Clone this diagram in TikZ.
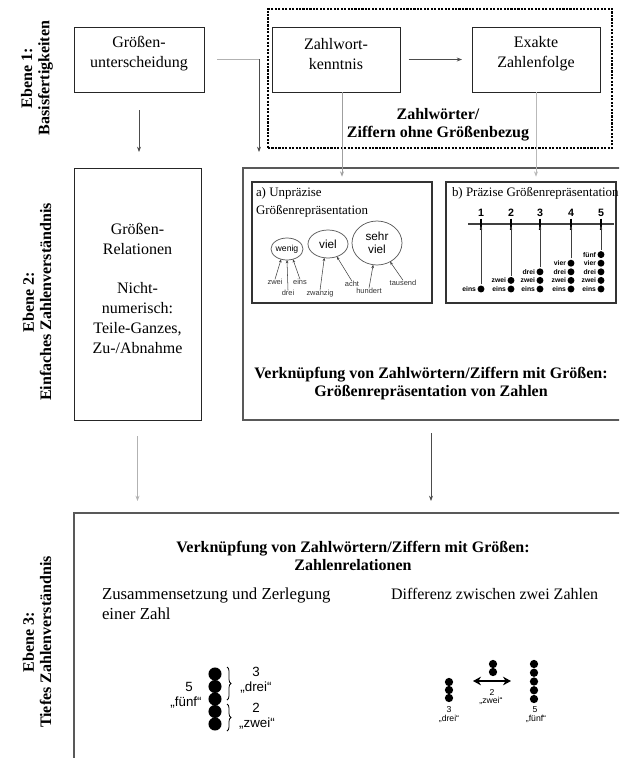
\documentclass[tikz,border=0pt]{standalone}
\usepackage{fontspec}
\setmainfont{Liberation Serif}
\newfontfamily\sansf{Liberation Sans}
\usetikzlibrary{arrows.meta,shapes.geometric,decorations.pathreplacing,fit}
\begin{document}
\begin{tikzpicture}[x=0.75pt,y=-0.75pt,
  every node/.style={inner sep=0pt,outer sep=0pt},
  sbox/.style={draw=black!85,line width=0.7pt,align=center,font=\fontsize{12}{15}\selectfont},
  bigbox/.style={draw=black!65,line width=0.9pt},
  dotbox/.style={draw=black,densely dotted,line width=1.6pt},
  lvl/.style={rotate=90,align=center,font=\bfseries\fontsize{12}{13}\selectfont},
  btxt/.style={align=center,font=\bfseries\fontsize{12}{13.5}\selectfont},
  rtxt/.style={align=left,font=\fontsize{12}{15}\selectfont},
  conn/.style={line width=0.55pt,draw=black!70,-{Stealth[length=4pt,width=3pt]}},
  lconn/.style={conn,draw=gray!60},
  subbox/.style={draw=black!80,line width=0.8pt},
  subtitle/.style={align=left,font=\fontsize{9.7}{13.5}\selectfont},
  ell/.style={ellipse,draw=gray!70!black,line width=0.55pt,align=center,font=\sansf\fontsize{8.8}{9.5}\selectfont},
  tiny/.style={font=\sansf\fontsize{5.6}{5.6}\selectfont,text=black!80},
  tarrow/.style={line width=0.4pt,draw=black!75,-{Stealth[length=2.5pt,width=2pt]}},
  numf/.style={font=\sansf\bfseries\fontsize{8}{8}\selectfont},
  lblf/.style={font=\sansf\bfseries\fontsize{5.1}{5.1}\selectfont,anchor=east},
  sdot/.style={circle,fill=black,minimum size=5.2pt},
  bdot/.style={circle,fill=black,minimum size=9.8pt},
  mdot/.style={circle,fill=black,minimum size=6.2pt},
  fig/.style={font=\sansf\fontsize{10}{10}\selectfont},
  figs/.style={font=\sansf\fontsize{6.5}{6.5}\selectfont},
  brc/.style={decorate,decoration={brace,amplitude=3pt},line width=0.6pt},
]
\useasboundingbox (0,0) rectangle (619,758);
\clip (0,0) rectangle (619,758);

% level labels
\node[lvl] (e1) at (37,78) {Ebene 1:\\Basisfertigkeiten};
\node[lvl] (e2) at (37,302) {Ebene 2:\\Einfaches Zahlenverständnis};
\node[lvl] (e3) at (37,642) {Ebene 3:\\Tiefes Zahlenverständnis};

% level 1
\node[dotbox,fit={(268,9)(612,148)}] (zf) {};
\node[sbox,fit={(74,27)(204,92)}] (gu) {Größen-\\unterscheidung};
\node[sbox,fit={(272,27)(400,92)}] (zk) {Zahlwort-\\kenntnis};
\node[sbox,fit={(472,27)(600,92)}] (ez) {Exakte\\Zahlenfolge};
\node[btxt] (zt) at (438,125) {Zahlwörter/\\Ziffern ohne Größenbezug};

% level 2
\node[sbox,fit={(74,168)(201,420)}] (lb) {Größen-\\Relationen\\[14.6pt]Nicht-\\numerisch:\\Teile-Ganzes,\\Zu-/Abnahme};
\node[bigbox,fit={(243,168)(660,420)}] (rb) {};
\node[subbox,fit={(252,182)(432,303)}] (ba) {};
\node[subbox,fit={(446,182)(616,303)}] (bb) {};
\node[btxt] (rt) at (431,384) {Verknüpfung von Zahlwörtern/Ziffern mit Größen:\\Größenrepräsentation von Zahlen};

% level 3
\node[bigbox,fit={(74,513)(660,790)}] (l3) {};
\node[btxt] (l3t) at (353,556) {Verknüpfung von Zahlwörtern/Ziffern mit Größen:\\Zahlenrelationen};
\node[rtxt,anchor=west,font=\fontsize{12.6}{15}\selectfont] (zz) at (102,604) {Zusammensetzung und Zerlegung\\einer Zahl};
\node[rtxt,anchor=west] (dz) at (391,594) {Differenz zwischen zwei Zahlen};

% connectors level 1 -> 2
\coordinate (c1) at (217,59);
\coordinate (c2) at (259,59);
\draw[line width=0.55pt,draw=gray!60] (c1) -- (c2);
\draw[conn,shorten >=12pt] (c2) -- (c2 |- rb.north);
\draw[conn,shorten <=13.5pt,shorten >=12pt] (gu.south) -- (gu.south |- lb.north);
\draw[conn,shorten <=6.5pt,shorten >=7.5pt] (zk.east) -- (ez.west);
\coordinate (zkb) at (342,92);
\draw[conn,draw=gray!75,shorten >=4pt] (zkb) -- (zkb |- ba.north);
\draw[conn,draw=gray!55,shorten >=4pt] (ez.south) -- (ez.south |- bb.north);

% connectors level 2 -> 3
\draw[lconn,shorten <=12pt,shorten >=9pt] (lb.south) -- (lb.south |- l3.north);
\coordinate (rbb) at (431,420);
\draw[conn,shorten <=10pt,shorten >=9pt] (rbb) -- (rbb |- l3.north);

% box a
\node[subtitle,anchor=north west] (at) at (256,188) {a) Unpräzise\\Größenrepräsentation};
\node[ell,minimum width=23pt,minimum height=16.5pt,font=\sansf\fontsize{6.5}{6.5}\selectfont] (we) at (287,249) {wenig};
\node[ell,minimum width=30pt,minimum height=21pt] (vi) at (328,244) {viel};
\node[ell,minimum width=37.5pt,minimum height=33pt] (sv) at (377,243) {sehr\\viel};
\node[tiny] (wz) at (275,282) {zwei};
\node[tiny] (we1) at (300,282) {eins};
\node[tiny] (wd) at (288,293) {drei};
\node[tiny] (wzw) at (320,294) {zwanzig};
\node[tiny] (wa) at (352,284) {acht};
\node[tiny] (wh) at (369,291) {hundert};
\node[tiny] (wt) at (403,283) {tausend};
\draw[tarrow] (wz.north) -- (we.-120);
\draw[tarrow] (wd.north) -- (we.south);
\draw[tarrow] (we1.north) -- (we.-60);
\draw[tarrow] (wzw.north) -- (vi.-105);
\draw[tarrow] (wa.north) -- (vi.-55);
\draw[tarrow] (wh.north) -- (sv.-100);
\draw[tarrow] (wt.north) -- (sv.-55);

% box b
\node[subtitle,anchor=west] (bt) at (452,193) {b) Präzise Größenrepräsentation};
\coordinate (nl1) at (468,224);
\coordinate (nl2) at (614,224);
\draw[line width=1.9pt,draw=black!75] (nl1) -- (nl2);
\foreach \x [count=\k] in {481,511,540,571,601} {
  \coordinate (t\k) at (\x,226);
  \draw[line width=1.1pt] (\x,218.5) -- (\x,229.5);
  \node[numf] (n\k) at (\x,213) {\k};
  \foreach \w [count=\j] in {eins,zwei,drei,vier,fünf} {
    \ifnum\j>\k\relax\else
      \node[sdot] (d\k-\j) at (\x,{289-8.6*(\j-1)}) {};
      \node[lblf] (l\k-\j) at ({\x-5},{289-8.6*(\j-1)}) {\w};
    \fi
  }
  \draw[tarrow,shorten <=1pt] (d\k-\k.north) -- (t\k);
}

% level 3 left figure
\foreach \i in {0,...,4} \node[bdot] (f\i) at (215,{674+12.5*\i}) {};
\node[fig] (f5n) at (189,687) {5};
\node[fig] (f5w) at (186,703) {„fünf“};
\draw[brc] (227,667) -- (227,700);
\draw[brc] (227,704) -- (227,731);
\node[fig] (f3n) at (256,672) {3};
\node[fig] (f3w) at (256,688) {„drei“};
\node[fig] (f2n) at (256,708) {2};
\node[fig] (f2w) at (257,724) {„zwei“};

% level 3 right figure
\foreach \i in {0,1,2} \node[mdot] (ga\i) at (449,{682+8*\i}) {};
\node[figs] (g3n) at (449,710) {3};
\node[figs] (g3w) at (449,719) {„drei“};
\foreach \i in {0,1} \node[mdot] (gb\i) at (493,{664+8*\i}) {};
\coordinate (da1) at (473,681);
\coordinate (da2) at (511,681);
\draw[line width=1.6pt,{Stealth[length=6pt,width=6.5pt]}-{Stealth[length=6pt,width=6.5pt]}] (da1) -- (da2);
\node[figs] (g2n) at (492,692) {2};
\node[figs] (g2w) at (491,701) {„zwei“};
\foreach \i in {0,...,4} \node[mdot] (gc\i) at (534,{664+8.75*\i}) {};
\node[figs] (g5n) at (535,710) {5};
\node[figs] (g5w) at (536,719) {„fünf“};
\end{tikzpicture}
\end{document}
